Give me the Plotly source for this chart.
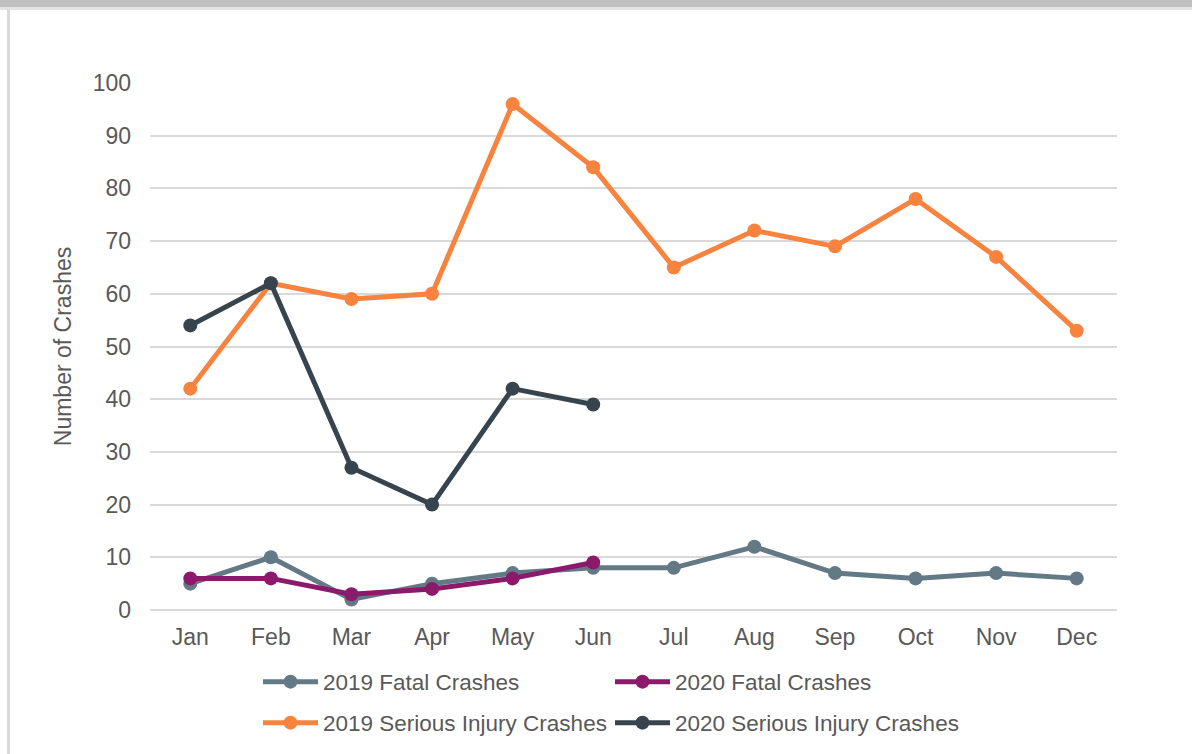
import plotly.graph_objects as go

months = ["Jan", "Feb", "Mar", "Apr", "May", "Jun", "Jul", "Aug", "Sep", "Oct", "Nov", "Dec"]
fatal_2019 = [5, 10, 2, 5, 7, 8, 8, 12, 7, 6, 7, 6]
fatal_2020 = [6, 6, 3, 4, 6, 9]
serious_2019 = [42, 62, 59, 60, 96, 84, 65, 72, 69, 78, 67, 53]
serious_2020 = [54, 62, 27, 20, 42, 39]
y_ticks = [0, 10, 20, 30, 40, 50, 60, 70, 80, 90, 100]

FONT = "Liberation Sans, Arial, sans-serif"
TXT = "#595959"

W, H = 1192, 754
L, R, T, B = 150, 75, 83, 144
pw, ph = W - L - R, H - T - B


def px_x(p):
    return (p - L) / pw


def px_y(p):
    return (H - B - p) / ph


def cx(p):
    return p / W


def cy(p):
    return 1 - p / H


series = [
    ("2019 Fatal Crashes", fatal_2019, "#637985", "legend"),
    ("2020 Fatal Crashes", fatal_2020, "#8B1A6B", "legend"),
    ("2019 Serious Injury Crashes", serious_2019, "#F7833F", "legend2"),
    ("2020 Serious Injury Crashes", serious_2020, "#37444E", "legend2"),
]

fig = go.Figure()
draw_order = [2, 3, 0, 1]
for i in draw_order:
    name, vals, color, leg = series[i]
    fig.add_trace(go.Scatter(
        x=months[:len(vals)], y=vals, name=name, mode="lines+markers",
        line=dict(color=color, width=5),
        marker=dict(color=color, size=14),
        cliponaxis=False, legend=leg, legendrank=i,
    ))

legend_common = dict(
    orientation="h", xref="container", yref="container",
    xanchor="left", yanchor="middle",
    entrywidth=282, entrywidthmode="pixels", itemwidth=55,
    font=dict(size=22.5, color=TXT), traceorder="normal", bgcolor="rgba(0,0,0,0)",
)

fig.update_layout(
    width=W, height=H,
    margin=dict(l=L, r=R, t=T, b=B, autoexpand=False),
    paper_bgcolor="white", plot_bgcolor="white",
    font=dict(family=FONT, size=23, color=TXT),
    xaxis=dict(
        categoryorder="array", categoryarray=months, range=[-0.5, 11.5],
        showgrid=False, showline=False, zeroline=False,
        ticks="", ticklabelstandoff=11,
        tickfont=dict(size=23, color=TXT),
    ),
    yaxis=dict(
        range=[0, 100], tickvals=y_ticks,
        showgrid=True, gridcolor="#D9D9D9", gridwidth=1.5,
        zeroline=True, zerolinecolor="#D9D9D9", zerolinewidth=1.5,
        showline=False, ticks="", ticklabelstandoff=18,
        tickfont=dict(size=23, color=TXT),
        title=dict(text="Number of Crashes", font=dict(size=23, color=TXT), standoff=14),
    ),
    legend=dict(legend_common, x=cx(258), y=cy(682)),
    legend2=dict(legend_common, x=cx(258), y=cy(723)),
    showlegend=True,
    shapes=[
        dict(type="rect", xref="paper", yref="paper",
             x0=px_x(0), x1=px_x(W), y0=px_y(0), y1=px_y(7),
             fillcolor="#BFBFBF", line=dict(width=0), layer="above"),
        dict(type="rect", xref="paper", yref="paper",
             x0=px_x(0), x1=px_x(W), y0=px_y(7), y1=px_y(10),
             fillcolor="#E3E3E3", line=dict(width=0), layer="above"),
        dict(type="rect", xref="paper", yref="paper",
             x0=px_x(7), x1=px_x(10), y0=px_y(10), y1=px_y(H),
             fillcolor="#D9D9D9", line=dict(width=0), layer="above"),
    ],
)

fig.write_html(
    "out.html",
    config={"displayModeBar": False},
    post_script="document.body.style.margin='0';document.body.style.overflow='hidden';",
)
